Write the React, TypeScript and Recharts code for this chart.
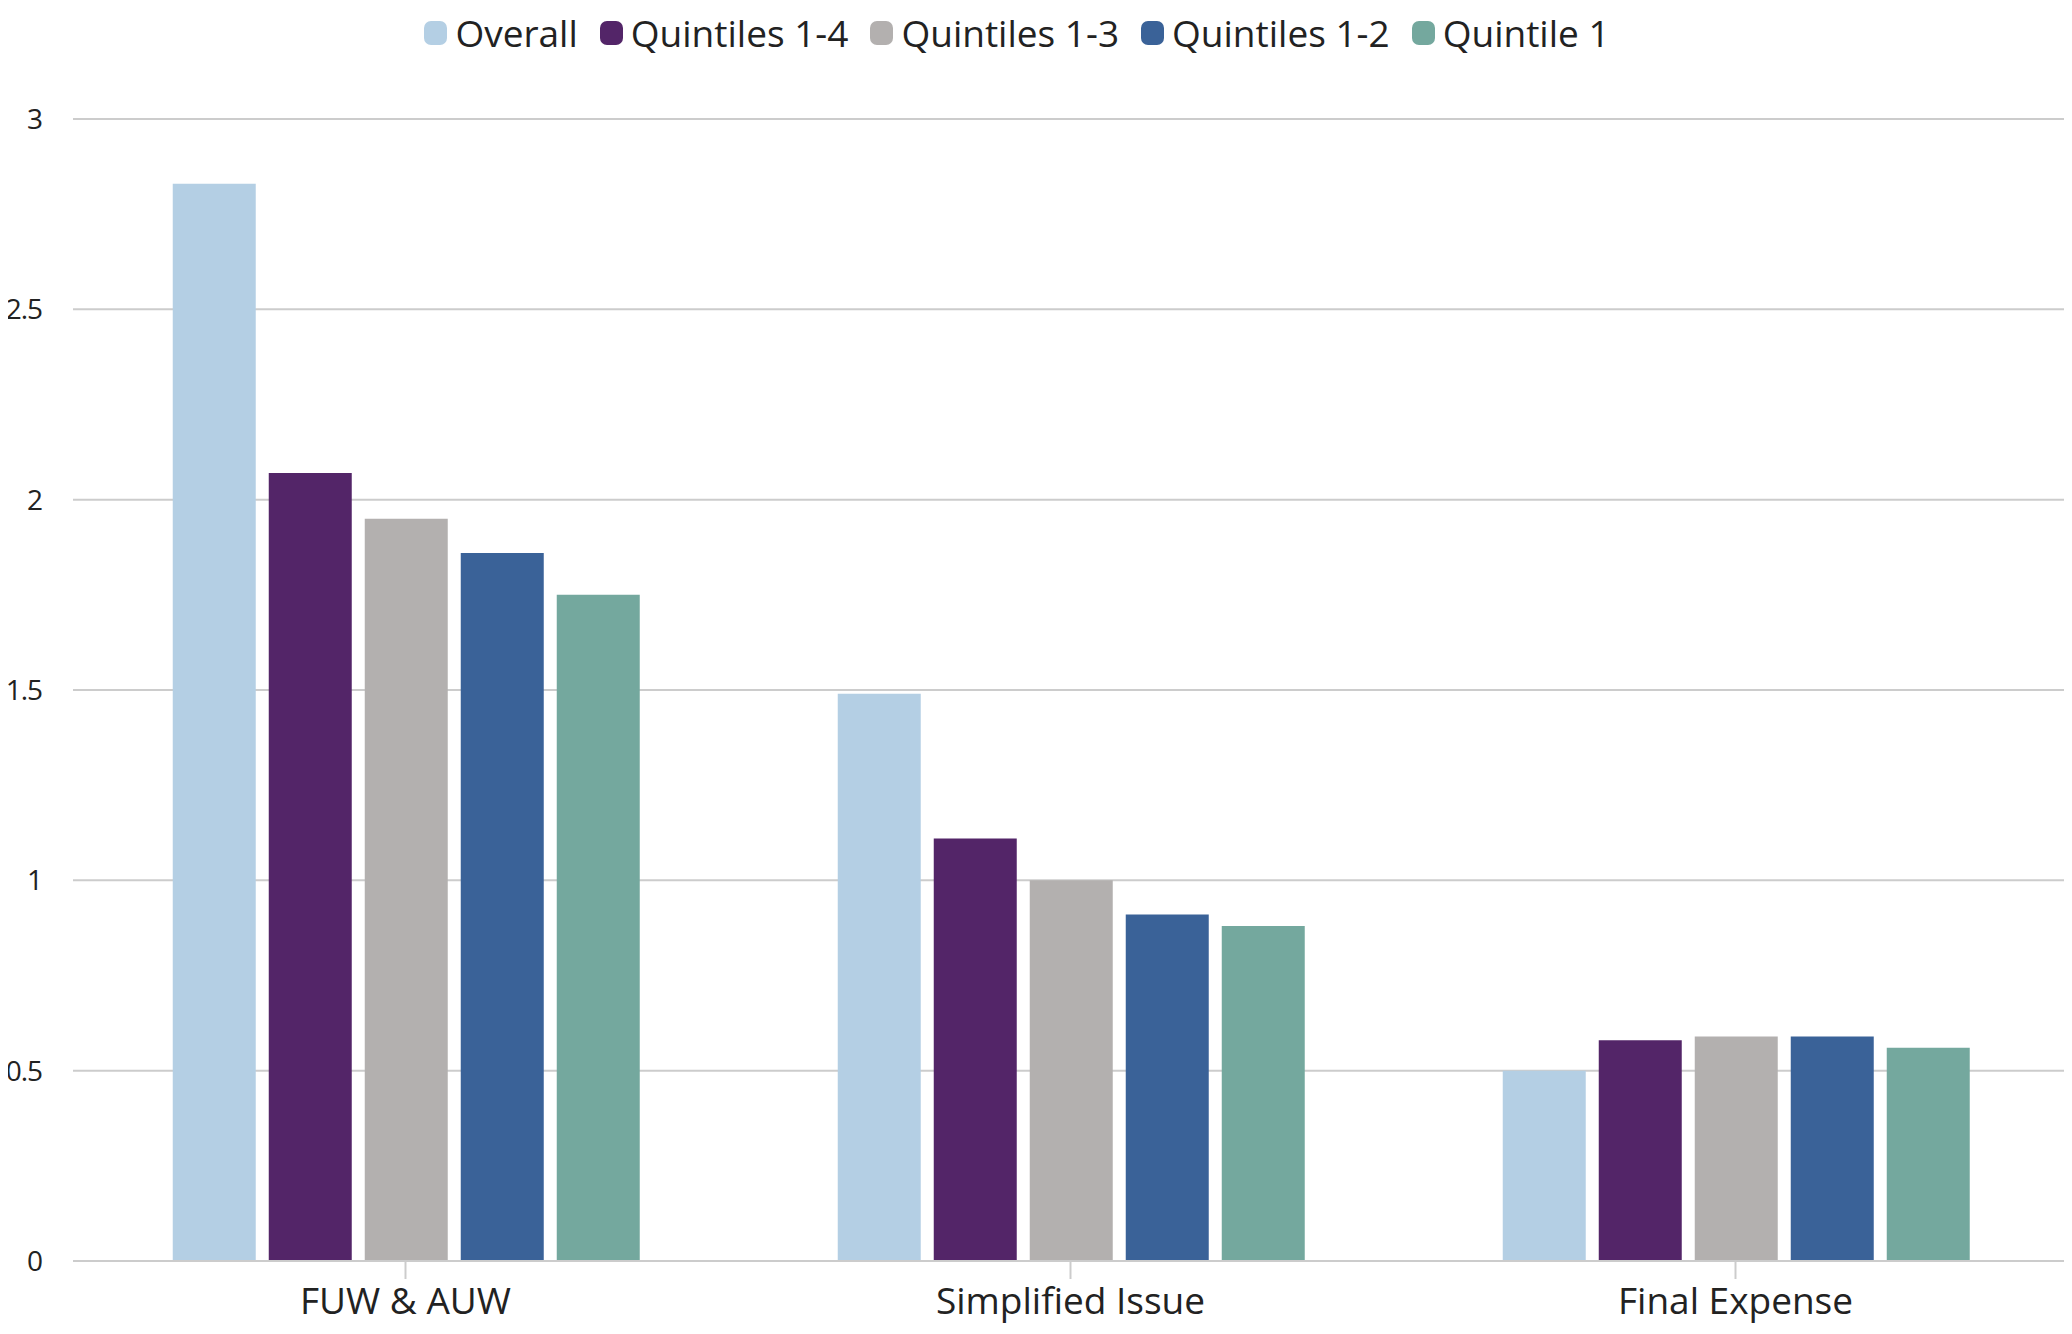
import { BarChart, Bar, XAxis, YAxis, CartesianGrid, Legend } from 'recharts'

const categories = ['FUW & AUW', 'Simplified Issue', 'Final Expense']
const overall = [2.83, 1.49, 0.5]
const q14 = [2.07, 1.11, 0.58]
const q13 = [1.95, 1.0, 0.59]
const q12 = [1.86, 0.91, 0.59]
const q1 = [1.75, 0.88, 0.56]
const yTicks = [0, 0.5, 1, 1.5, 2, 2.5, 3]

const series = [
  { key: 'Overall', values: overall, color: '#b4cfe4' },
  { key: 'Quintiles 1-4', values: q14, color: '#532568' },
  { key: 'Quintiles 1-3', values: q13, color: '#b3b0af' },
  { key: 'Quintiles 1-2', values: q12, color: '#3a6298' },
  { key: 'Quintile 1', values: q1, color: '#74a89e' },
]

const data = categories.map((c, i) => {
  const row: Record<string, string | number> = { name: c }
  series.forEach(s => { row[s.key] = s.values[i] })
  return row
})

const font = '"Open Sans", sans-serif'

function LegendContent() {
  return (
    <div style={{ height: 119, display: 'flex', justifyContent: 'center', alignItems: 'flex-start', paddingTop: 14, boxSizing: 'border-box', paddingRight: 12 }}>
      {series.map(s => (
        <div key={s.key} style={{ display: 'flex', alignItems: 'center', marginRight: 22, height: 38 }}>
          <span style={{ width: 23, height: 24, borderRadius: 7, background: s.color, display: 'inline-block', marginRight: 8 }} />
          <span style={{ fontFamily: font, fontSize: 37, color: '#222', lineHeight: '38px' }}>{s.key}</span>
        </div>
      ))}
    </div>
  )
}

export default function App() {
  return (
    <div style={{ margin: -8 }}>
      <BarChart width={2072} height={1334} data={data} margin={{ top: 0, right: 4, left: 0, bottom: 0 }}
        barCategoryGap="15%" barGap={13}>
        <CartesianGrid vertical={false} stroke="#cccccc" strokeWidth={2} />
        <XAxis dataKey="name" stroke="#cccccc" strokeWidth={2} tickSize={18} tickMargin={9} height={73}
          tick={{ fontSize: 37, fill: '#222', fontFamily: font }} />
        <YAxis domain={[0, 3]} ticks={yTicks} width={73} axisLine={false} tickLine={false} tickSize={0} tickMargin={31}
          tick={{ fontSize: 28, fill: '#222', fontFamily: font, letterSpacing: -1 }} />
        <Legend verticalAlign="top" content={<LegendContent />} />
        {series.map(s => (
          <Bar key={s.key} dataKey={s.key} fill={s.color} isAnimationActive={false} />
        ))}
      </BarChart>
    </div>
  )
}
